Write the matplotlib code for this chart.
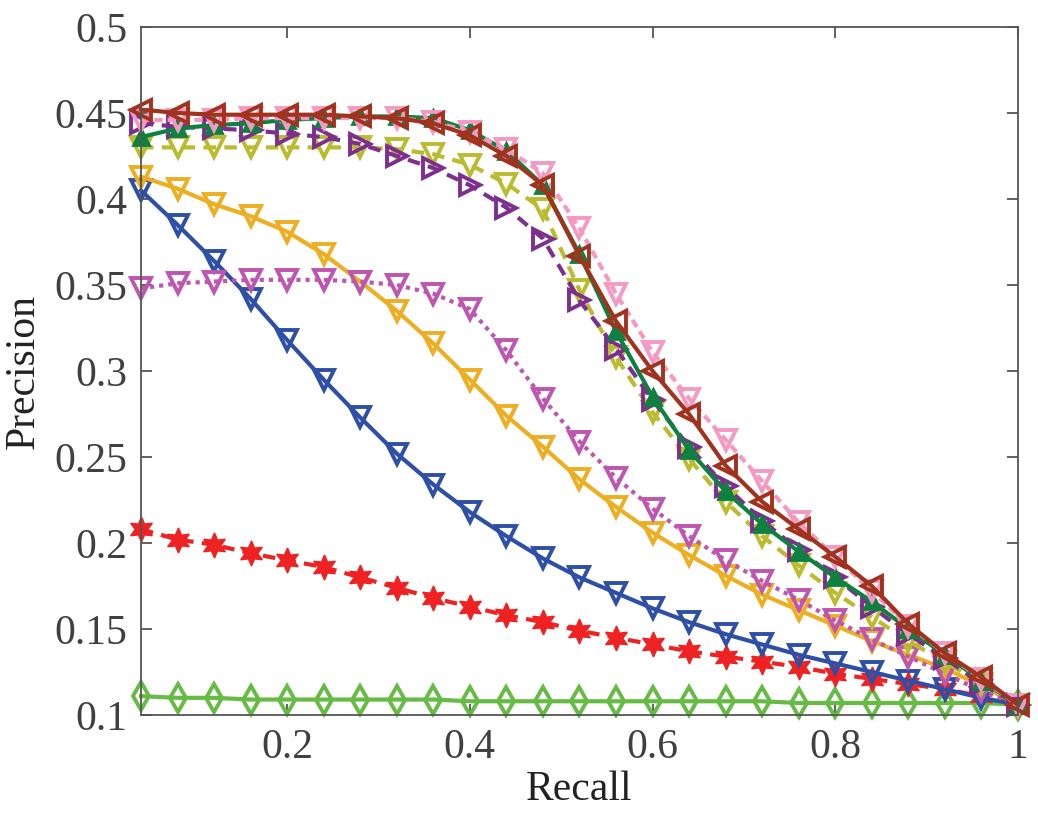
import matplotlib
matplotlib.use("Agg")
import matplotlib.pyplot as plt
import numpy as np

plt.rcParams['font.family'] = ['Liberation Serif', 'DejaVu Serif']

recall = [0.04, 0.08, 0.12, 0.16, 0.20, 0.24, 0.28, 0.32, 0.36, 0.40, 0.44, 0.48, 0.52,
          0.56, 0.60, 0.64, 0.68, 0.72, 0.76, 0.80, 0.84, 0.88, 0.92, 0.96, 1.00]

prec_lightgreen = [0.111, 0.110, 0.110, 0.109, 0.109, 0.109, 0.109, 0.109, 0.109, 0.108, 0.108, 0.108, 0.108,
                   0.108, 0.108, 0.108, 0.108, 0.108, 0.107, 0.107, 0.107, 0.107, 0.107, 0.107, 0.106]
prec_red = [0.208, 0.202, 0.199, 0.194, 0.190, 0.186, 0.180, 0.174, 0.168, 0.163, 0.158, 0.154, 0.149,
            0.145, 0.141, 0.137, 0.134, 0.131, 0.128, 0.124, 0.121, 0.118, 0.115, 0.111, 0.106]
prec_blue = [0.405, 0.385, 0.364, 0.342, 0.318, 0.295, 0.273, 0.252, 0.234, 0.218, 0.204, 0.191, 0.180,
             0.171, 0.162, 0.154, 0.147, 0.141, 0.135, 0.130, 0.125, 0.120, 0.115, 0.110, 0.106]
prec_orange = [0.413, 0.406, 0.397, 0.390, 0.381, 0.368, 0.352, 0.335, 0.316, 0.295, 0.274, 0.256, 0.237,
               0.221, 0.206, 0.193, 0.181, 0.170, 0.161, 0.152, 0.143, 0.135, 0.127, 0.117, 0.106]
prec_magenta = [0.348, 0.351, 0.352, 0.353, 0.353, 0.353, 0.352, 0.350, 0.345, 0.336, 0.312, 0.284, 0.259,
                0.238, 0.220, 0.204, 0.190, 0.178, 0.167, 0.155, 0.144, 0.134, 0.124, 0.114, 0.106]
prec_olive = [0.430, 0.430, 0.430, 0.430, 0.430, 0.430, 0.430, 0.429, 0.426, 0.420, 0.409, 0.394, 0.347,
              0.308, 0.276, 0.249, 0.224, 0.204, 0.187, 0.171, 0.157, 0.143, 0.131, 0.118, 0.106]
prec_purple = [0.444, 0.442, 0.441, 0.440, 0.438, 0.436, 0.432, 0.425, 0.418, 0.408, 0.395, 0.377, 0.341,
               0.313, 0.283, 0.256, 0.233, 0.213, 0.196, 0.180, 0.163, 0.147, 0.133, 0.118, 0.106]
prec_green = [0.436, 0.441, 0.443, 0.444, 0.446, 0.447, 0.448, 0.448, 0.447, 0.440, 0.428, 0.408, 0.368,
              0.323, 0.285, 0.254, 0.230, 0.211, 0.195, 0.180, 0.166, 0.150, 0.135, 0.120, 0.106]
prec_pink = [0.446, 0.446, 0.446, 0.447, 0.447, 0.447, 0.447, 0.447, 0.445, 0.439, 0.429, 0.415, 0.383,
             0.345, 0.311, 0.284, 0.260, 0.236, 0.212, 0.192, 0.172, 0.152, 0.136, 0.121, 0.106]
prec_brown = [0.452, 0.450, 0.449, 0.449, 0.449, 0.449, 0.448, 0.447, 0.444, 0.437, 0.425, 0.408, 0.367,
              0.329, 0.300, 0.275, 0.245, 0.224, 0.208, 0.192, 0.175, 0.153, 0.136, 0.122, 0.106]

fig = plt.figure(figsize=(10.38, 8.23), dpi=100)
ax = fig.add_axes([0.1358, 0.1312, 0.8449, 0.836])

lw = 3.0
common = dict(lw=lw, markersize=14, markeredgewidth=2.8, clip_on=False)

ax.plot(recall, prec_lightgreen, '-', color='#66BB44', marker='d', mfc='none', **common)
ax.plot(recall, prec_red, '--', color='#EE2222', marker=(6, 1, 0), mfc='#EE2222', dashes=(3, 2),
        lw=lw, markersize=18, markeredgewidth=1, clip_on=False)
ax.plot(recall, prec_blue, '-', color='#2E4FA6', marker='v', mfc='none', **common)
ax.plot(recall, prec_orange, '-', color='#EDAE22', marker='v', mfc='none', **common)
ax.plot(recall, prec_magenta, ':', color='#BE55B0', marker='v', mfc='none', dashes=(1, 1.2), **common)
ax.plot(recall, prec_olive, '--', color='#BBBB30', marker='v', mfc='none', dashes=(3, 2), **common)
ax.plot(recall, prec_purple, '--', color='#7E2F8E', marker='>', mfc='none', dashes=(3, 2), **common)
ax.plot(recall, prec_green, '-', color='#0E8040', marker='^', mfc='#0E8040', markersize=11,
        lw=lw, markeredgewidth=2, clip_on=False)
ax.plot(recall, prec_pink, '--', color='#F49AC2', marker='v', mfc='none', dashes=(2, 1.2), **common)
ax.plot(recall, prec_brown, '-', color='#A0321E', marker='<', mfc='none', **common)

ax.set_xlim(0.04, 1.0)
ax.set_ylim(0.1, 0.5)
ax.set_xticks([0.2, 0.4, 0.6, 0.8, 1.0])
ax.set_xticklabels(['0.2', '0.4', '0.6', '0.8', '1'])
yt = [0.1, 0.15, 0.2, 0.25, 0.3, 0.35, 0.4, 0.45, 0.5]
ax.set_yticks(yt)
ax.set_yticklabels(['0.1', '0.15', '0.2', '0.25', '0.3', '0.35', '0.4', '0.45', '0.5'])

for s in ax.spines.values():
    s.set_color('#555555')
    s.set_linewidth(1.3)
ax.tick_params(direction='in', length=8, width=1.3, color='#555555', labelcolor='#404040',
               labelsize=30, top=True, right=True, pad=10)

ax.set_xlabel('Recall', fontsize=30, color='#222222', labelpad=2)
ax.set_ylabel('Precision', fontsize=30, color='#222222', labelpad=8)

fig.savefig('out.png', dpi=100)
